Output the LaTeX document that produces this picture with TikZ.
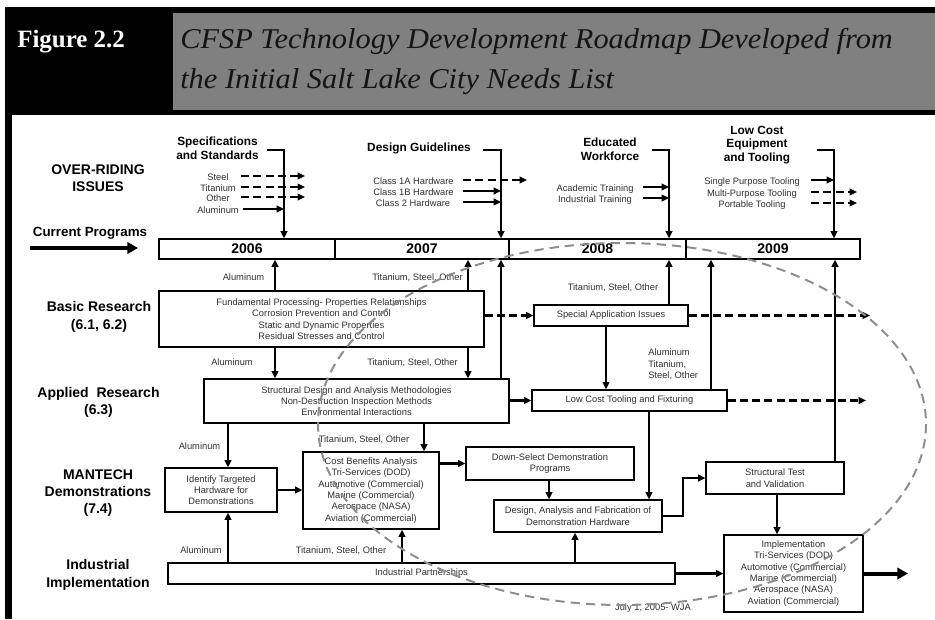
\documentclass[tikz,border=0pt]{standalone}
\usepackage{fontspec}
\setmainfont{Liberation Sans}
\newfontfamily\serifhd{Liberation Serif}
\usetikzlibrary{arrows.meta}

\definecolor{hdgray}{HTML}{808080}
\definecolor{txt}{HTML}{303030}
\definecolor{ringgray}{HTML}{8E8E8E}

\begin{document}
\begin{tikzpicture}[x=0.75pt,y=-0.75pt,
  lbl/.style={font=\fontsize{7}{8.5}\selectfont, text=txt, inner sep=0pt, text height=1.45ex, text depth=0.3ex},
  lbltwo/.style={font=\fontsize{7}{8.3}\selectfont, text=txt, inner sep=0pt, align=left},
  head/.style={font=\fontsize{8.9}{10.2}\selectfont\bfseries, inner sep=0pt, align=center},
  rowlbl/.style={font=\fontsize{10.5}{13}\selectfont\bfseries, inner sep=0pt, align=center},
  box/.style={draw, line width=0.9pt, fill=white, inner sep=0pt, align=center,
              font=\fontsize{7}{8.5}\selectfont, text=txt},
  sz/.style 2 args={minimum width=#1*0.75pt, minimum height=#2*0.75pt},
  yr/.style={box, font=\fontsize{10.5}{12}\selectfont\bfseries, text=black, sz={#1}{20}},
  arr/.style={line width=1.6pt, -{Triangle[length=5.5pt,width=5pt]}},
  dsh/.style={arr, dash pattern=on 6pt off 3.2pt},
  fat/.style={line width=3pt, -{Triangle[length=8pt,width=8.5pt]}},
  ring/.style={draw=ringgray, line width=1.5pt, dash pattern=on 7pt off 4.5pt},
  ttl/.style={anchor=base west, text=black!92, inner sep=0pt, xscale=1.06,
              font=\serifhd\itshape\fontsize{21.5}{26}\selectfont}]

\useasboundingbox (0,0) rectangle (935,619);

% title band and left rule
\fill (5,7) rectangle (935,115);
\fill[hdgray] (173,13) rectangle (935,110);
\fill (5,115) rectangle (12,619);
\node[anchor=base west, text=white, inner sep=0pt,
      font=\serifhd\bfseries\fontsize{18.7}{20}\selectfont] (fig) at (17,47) {Figure 2.2};
\node[ttl] (ttla) at (180,48) {CFSP Technology Development Roadmap Developed from};
\node[ttl] (ttlb) at (180,88) {the Initial Salt Lake City Needs List};

% row labels
\node[rowlbl] (rOver) at (98,178.5) {OVER-RIDING\\ISSUES};
\node[rowlbl, font=\fontsize{10}{12}\selectfont\bfseries] (rCur) at (90,233) {Current Programs};
\coordinate (cpS) at (30,248);
\coordinate (cpE) at (138,248);
\draw[fat] (cpS) -- (cpE);
\node[rowlbl] (rBasic) at (99,317) {Basic Research\\(6.1, 6.2)};
\node[rowlbl] (rApplied) at (98.5,402.5) {Applied~~Research\\(6.3)};
\node[rowlbl] (rMan) at (98,493) {MANTECH\\Demonstrations\\(7.4)};
\node[rowlbl] (rInd) at (98,575) {Industrial\\Implementation};

% year bar
\node[yr=176] (y2006) at (247,249) {2006};
\node[yr=174] (y2007) at (422,249) {2007};
\node[yr=177] (y2008) at (597.5,249) {2008};
\node[yr=174] (y2009) at (773,249) {2009};

% over-riding issue headings
\node[head] (hSpec) at (217.5,148.5) {Specifications\\and Standards};
\node[head] (hDesign) at (419,148) {Design Guidelines};
\node[head] (hEdu) at (610,149) {Educated\\Workforce};
\node[head] (hLow) at (757,145) {Low Cost\\Equipment\\and Tooling};

% bracket lines feeding the year bar
\coordinate (bSpec) at (267,150); \coordinate (vSpec) at (284,150);
\coordinate (bDes) at (483,150);  \coordinate (vDes) at (501,150);
\coordinate (bEdu) at (652,150);  \coordinate (vEdu) at (669,150);
\coordinate (bLow) at (817,150);  \coordinate (vLow) at (834,150);
\draw[arr] (bSpec) -- (vSpec) -- (vSpec |- y2006.north);
\draw[arr] (bDes) -- (vDes) -- (vDes |- y2007.north);
\draw[arr] (bEdu) -- (vEdu) -- (vEdu |- y2008.north);
\draw[arr] (bLow) -- (vLow) -- (vLow |- y2009.north);

% issue items
\coordinate (sSpec) at (241,0); \coordinate (sSpecB) at (243,0); \coordinate (eSpec) at (305,0);
\node[lbl] (iSteel) at (218,176) {Steel};
\node[lbl] (iTi) at (218,187) {Titanium};
\node[lbl] (iOther) at (218,197) {Other};
\node[lbl] (iAl) at (218,209) {Aluminum};
\draw[dsh] (iSteel -| sSpec) -- (iSteel -| eSpec);
\draw[dsh] (iTi -| sSpec) -- (iTi -| eSpec);
\draw[dsh] (iOther -| sSpec) -- (iOther -| eSpec);
\draw[arr] (iAl -| sSpecB) -- (iAl -| vSpec);

\coordinate (sDes) at (463,0); \coordinate (eDes) at (527,0);
\node[lbl] (iC1A) at (413.5,180) {Class 1A Hardware};
\node[lbl] (iC1B) at (413.5,191) {Class 1B Hardware};
\node[lbl] (iC2) at (413,202) {Class 2 Hardware};
\draw[dsh] (iC1A -| sDes) -- (iC1A -| eDes);
\draw[arr] (iC1B -| sDes) -- (iC1B -| vDes);
\draw[arr] (iC2 -| sDes) -- (iC2 -| vDes);

\coordinate (sEdu) at (643,0);
\node[lbl] (iAcad) at (595,187) {Academic Training};
\node[lbl] (iIndT) at (595,198) {Industrial Training};
\draw[arr] (iAcad -| sEdu) -- (iAcad -| vEdu);
\draw[arr] (iIndT -| sEdu) -- (iIndT -| vEdu);

\coordinate (sLow) at (811,0); \coordinate (eLow) at (857,0);
\node[lbl] (iSingle) at (752,180) {Single Purpose Tooling};
\node[lbl] (iMulti) at (752,192) {Multi-Purpose Tooling};
\node[lbl] (iPort) at (752,203) {Portable Tooling};
\draw[arr] (iSingle -| sLow) -- (iSingle -| vLow);
\draw[dsh] (iMulti -| sLow) -- (iMulti -| eLow);
\draw[dsh] (iPort -| sLow) -- (iPort -| eLow);

% program boxes
\node[box, sz={325}{56}] (basic) at (321.5,319)
  {Fundamental Processing- Properties Relationships\\Corrosion Prevention and Control\\Static and Dynamic Properties\\Residual Stresses and Control};
\node[box, sz={305}{44}] (applied) at (356.5,401)
  {Structural Design and Analysis Methodologies\\Non-Destruction Inspection Methods\\Environmental Interactions};
\node[box, sz={154}{21}] (special) at (611,315.5) {Special Application Issues};
\node[box, sz={195}{21}] (lowcost) at (629.5,400.5) {Low Cost Tooling and Fixturing};
\node[box, sz={112}{44}] (identify) at (221,490) {Identify Targeted\\Hardware for\\Demonstrations};
\node[box, sz={136}{77}] (costben) at (371,490.5)
  {Cost Benefits Analysis\\Tri-Services (DOD)\\Automotive (Commercial)\\Marine (Commercial)\\Aerospace (NASA)\\Aviation (Commercial)};
\node[box, sz={168}{33}] (downsel) at (550,463.5) {Down-Select Demonstration\\Programs};
\node[box, sz={168}{32}] (design) at (578,516) {Design, Analysis and Fabrication of\\Demonstration Hardware};
\node[box, sz={138}{32}] (structest) at (775,478) {Structural Test\\and Validation};
\node[box, sz={139}{77}] (impl) at (793.5,573.5)
  {Implementation\\Tri-Services (DOD)\\Automotive (Commercial)\\Marine (Commercial)\\Aerospace (NASA)\\Aviation (Commercial)};
\node[box, sz={507}{21}] (partner) at (421.5,573.5) {Industrial Partnerships};

% columns used by the vertical connectors
\coordinate (x228) at (228,0); \coordinate (x275) at (275,0);
\coordinate (x402) at (402,0); \coordinate (x424) at (424,0);
\coordinate (x468) at (468,0); \coordinate (x501) at (501,0);
\coordinate (x549) at (549,0); \coordinate (x575) at (575,0);
\coordinate (x606) at (606,0); \coordinate (x649) at (649,0);
\coordinate (x669) at (669,0); \coordinate (x711) at (711,0);
\coordinate (x777) at (777,0); \coordinate (x835) at (835,0);
\coordinate (x866) at (866,0); \coordinate (x870) at (870,0);
\coordinate (x908) at (908,0);

% connectors
\draw[arr] (x275 |- basic.north) -- (x275 |- y2006.south);
\draw[arr] (x468 |- basic.north) -- (x468 |- y2007.south);
\draw[arr] (x501 |- applied.north) -- (x501 |- y2007.south);
\draw[arr] (x275 |- basic.south) -- (x275 |- applied.north);
\draw[arr] (x468 |- basic.south) -- (x468 |- applied.north);
\draw[dsh] (basic.east |- special.west) -- (special.west);
\draw[arr] (x669 |- special.north) -- (x669 |- y2008.south);
\draw[dsh] (special.east) -- (special.east -| x870);
\draw[arr] (x606 |- special.south) -- (x606 |- lowcost.north);
\draw[arr] (applied.east |- lowcost.west) -- (lowcost.west);
\draw[dsh] (lowcost.east) -- (lowcost.east -| x866);
\draw[arr] (x711 |- lowcost.north) -- (x711 |- y2009.south);
\draw[arr] (x835 |- structest.north) -- (x835 |- y2009.south);
\draw[arr] (x649 |- lowcost.south) -- (x649 |- design.north);
\draw[arr] (design.east) -- ++(20,0) |- (structest.west);
\draw[arr] (x777 |- structest.south) -- (x777 |- impl.north);
\draw[fat] (impl.east) -- (impl.east -| x908);
\draw[arr] (partner.east) -- (impl.west);
\draw[arr] (x228 |- partner.north) -- (x228 |- identify.south);
\draw[arr] (x402 |- partner.north) -- (x402 |- costben.south);
\draw[arr] (x575 |- partner.north) -- (x575 |- design.south);
\draw[arr] (x228 |- applied.south) -- (x228 |- identify.north);
\draw[arr] (x424 |- applied.south) -- (x424 |- costben.north);
\draw[arr] (identify.east) -- (identify.east -| costben.west);
\draw[arr] (costben.east |- downsel.west) -- (downsel.west);
\draw[arr] (x549 |- downsel.south) -- (x549 |- design.north);

% material labels along the connectors
\node[lbl] (lAl1) at (243.5,276) {Aluminum};
\node[lbl] (lTi1) at (417.5,276) {Titanium, Steel, Other};
\node[lbl] (lAl2) at (232,361) {Aluminum};
\node[lbl] (lTi2) at (412.5,361) {Titanium, Steel, Other};
\node[lbl] (lTi3) at (613,286) {Titanium, Steel, Other};
\node[lbl, anchor=west] (lAl4) at (648,351) {Aluminum};
\node[lbltwo, anchor=north west] (lTi4) at (648,360.5) {Titanium,\\Steel, Other};
\node[lbl] (lAl5) at (199.5,445) {Aluminum};
\node[lbl] (lTi5) at (364,438) {Titanium, Steel, Other};
\node[lbl] (lAl6) at (201,549) {Aluminum};
\node[lbl] (lTi6) at (341,549) {Titanium, Steel, Other};
\node[lbl] (date) at (653,606) {July 1, 2005- WJA};

% dashed outline of the 2008 focus area
\draw[ring] (622,424) ellipse [x radius=304, y radius=181];

\end{tikzpicture}
\end{document}
